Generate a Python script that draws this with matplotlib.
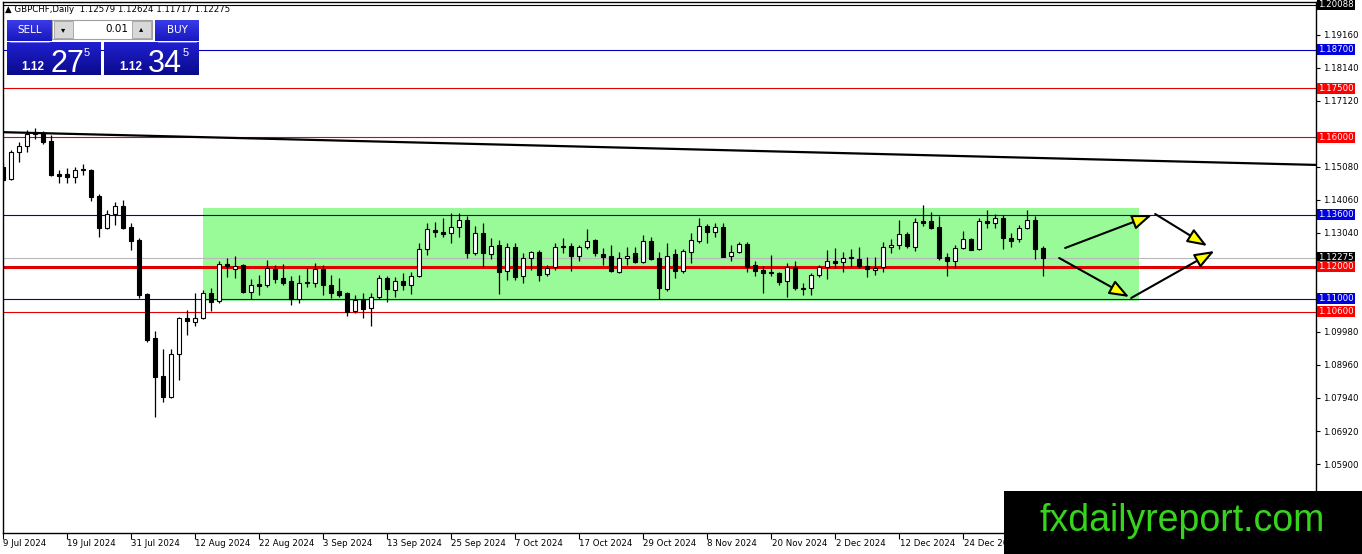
import matplotlib
matplotlib.use("Agg")
import matplotlib.pyplot as plt
from matplotlib.patches import Rectangle
import numpy as np
import pandas as pd

# GBPCHF daily candles, 9 Jul 2024 onward
opens = [1.15075, 1.14704, 1.15538, 1.15724, 1.16094, 1.16125, 1.15878, 1.14859, 1.14859, 1.14766,
         1.14990, 1.14982, 1.14180, 1.13191, 1.13623, 1.13871, 1.13222, 1.12820, 1.11152, 1.09793,
         1.08618, 1.07969, 1.09298, 1.10410, 1.10286, 1.10410, 1.11183, 1.10936, 1.12078, 1.11924,
         1.12047, 1.11214, 1.11461, 1.11430, 1.11924, 1.11646, 1.11553, 1.10998, 1.11523, 1.11492,
         1.11924, 1.11430, 1.11245, 1.11183, 1.10627, 1.10998, 1.10720, 1.11060, 1.11646, 1.11275,
         1.11553, 1.11430, 1.11708, 1.12542, 1.13129, 1.13067, 1.13036, 1.13222, 1.13438, 1.12419,
         1.13036, 1.12388, 1.12666, 1.11862, 1.12604, 1.11708, 1.12264, 1.12450, 1.11770, 1.11986,
         1.12635, 1.12635, 1.12326, 1.12604, 1.12820, 1.12388, 1.12326, 1.11832, 1.12264, 1.12419,
         1.12140, 1.12789, 1.12264, 1.11306, 1.12388, 1.11862, 1.12450, 1.12789, 1.13253, 1.13067,
         1.13222, 1.12326, 1.12450, 1.12697, 1.12047, 1.11893, 1.11801, 1.11801, 1.11553, 1.11986,
         1.11306, 1.11337, 1.11739, 1.11986, 1.12171, 1.12140, 1.12264, 1.12233, 1.12017, 1.11893,
         1.11986, 1.12604, 1.12666, 1.13006, 1.12604, 1.13407, 1.13407, 1.13222, 1.12295, 1.12171,
         1.12573, 1.12851, 1.12542, 1.13407, 1.13345, 1.13500, 1.12882, 1.12851, 1.13191, 1.13438,
         1.12579]
highs = [1.15198, 1.15600, 1.15847, 1.16218, 1.16280, 1.16187, 1.16063, 1.14982, 1.15044, 1.15075,
         1.15167, 1.15013, 1.14241, 1.13747, 1.13994, 1.14056, 1.13345, 1.12882, 1.11183, 1.10008,
         1.09452, 1.09452, 1.10441, 1.10657, 1.11183, 1.11275, 1.11337, 1.12171, 1.12264, 1.12326,
         1.12078, 1.11615, 1.11739, 1.12202, 1.12047, 1.12078, 1.11708, 1.11739, 1.11955, 1.12109,
         1.12047, 1.11739, 1.11646, 1.11214, 1.11121, 1.11183, 1.11183, 1.11739, 1.11708, 1.11677,
         1.11801, 1.11832, 1.12727, 1.13345, 1.13376, 1.13500, 1.13654, 1.13654, 1.13562, 1.13253,
         1.13345, 1.12882, 1.12820, 1.12727, 1.12727, 1.12419, 1.12481, 1.12512, 1.12047, 1.12727,
         1.12882, 1.12727, 1.12666, 1.13160, 1.12851, 1.12573, 1.12666, 1.12450, 1.12604, 1.12604,
         1.12975, 1.12913, 1.12450, 1.12727, 1.12542, 1.12542, 1.13036, 1.13500, 1.13314, 1.13345,
         1.13345, 1.12666, 1.12758, 1.12758, 1.12171, 1.12017, 1.12357, 1.11832, 1.12109, 1.12171,
         1.11492, 1.11801, 1.12047, 1.12512, 1.12573, 1.12450, 1.12542, 1.12604, 1.12295, 1.12295,
         1.12758, 1.12851, 1.13438, 1.13067, 1.13500, 1.13902, 1.13685, 1.13562, 1.12419, 1.12666,
         1.13098, 1.12882, 1.13500, 1.13747, 1.13623, 1.13592, 1.13036, 1.13284, 1.13747, 1.13562,
         1.12624]
lows = [1.14611, 1.14673, 1.15229, 1.15538, 1.15940, 1.15785, 1.14797, 1.14580, 1.14580, 1.14580,
        1.14828, 1.14025, 1.12913, 1.13160, 1.13284, 1.13160, 1.12512, 1.11029, 1.09670, 1.07354,
        1.07817, 1.07940, 1.08494, 1.09885, 1.10163, 1.10379, 1.10627, 1.10874, 1.11677, 1.11646,
        1.11183, 1.10998, 1.11121, 1.11368, 1.11492, 1.11430, 1.10812, 1.10874, 1.11368, 1.11368,
        1.11121, 1.11029, 1.11060, 1.10472, 1.10565, 1.10410, 1.10163, 1.10998, 1.10905, 1.11060,
        1.11275, 1.11152, 1.11677, 1.12357, 1.12913, 1.12913, 1.12727, 1.12913, 1.12264, 1.12357,
        1.11986, 1.12233, 1.11152, 1.11584, 1.11584, 1.11492, 1.11893, 1.11553, 1.11708, 1.11893,
        1.12419, 1.11862, 1.12171, 1.12542, 1.12326, 1.12047, 1.11832, 1.11801, 1.12047, 1.12109,
        1.12109, 1.12202, 1.10998, 1.11245, 1.11646, 1.11801, 1.12109, 1.12727, 1.12727, 1.12913,
        1.12280, 1.12171, 1.12419, 1.11832, 1.11708, 1.11183, 1.11708, 1.11430, 1.11060, 1.11275,
        1.11121, 1.11121, 1.11677, 1.11615, 1.11955, 1.11832, 1.11986, 1.11955, 1.11677, 1.11739,
        1.11832, 1.12419, 1.12542, 1.12573, 1.12481, 1.13253, 1.13160, 1.12202, 1.11708, 1.11955,
        1.12542, 1.12500, 1.12512, 1.13191, 1.13191, 1.12542, 1.12604, 1.12758, 1.13160, 1.12233,
        1.11717]
closes = [1.14673, 1.15538, 1.15724, 1.16094, 1.16125, 1.15847, 1.14828, 1.14812, 1.14766, 1.14982,
          1.14975, 1.14149, 1.13191, 1.13623, 1.13871, 1.13191, 1.12789, 1.11121, 1.09731, 1.08587,
          1.07969, 1.09298, 1.10410, 1.10317, 1.10410, 1.11183, 1.10905, 1.12078, 1.12017, 1.12017,
          1.11214, 1.11430, 1.11399, 1.11955, 1.11615, 1.11492, 1.10998, 1.11492, 1.11492, 1.11924,
          1.11430, 1.11183, 1.11121, 1.10596, 1.10967, 1.10689, 1.11060, 1.11646, 1.11306, 1.11553,
          1.11430, 1.11708, 1.12542, 1.13160, 1.13067, 1.13006, 1.13222, 1.13438, 1.12419, 1.13036,
          1.12419, 1.12635, 1.11832, 1.12604, 1.11677, 1.12264, 1.12450, 1.11739, 1.11955, 1.12604,
          1.12604, 1.12326, 1.12604, 1.12789, 1.12419, 1.12295, 1.11862, 1.12264, 1.12326, 1.12140,
          1.12789, 1.12233, 1.11337, 1.12326, 1.11862, 1.12481, 1.12820, 1.13253, 1.13067, 1.13222,
          1.12295, 1.12450, 1.12697, 1.11986, 1.11862, 1.11801, 1.11795, 1.11523, 1.11986, 1.11337,
          1.11300, 1.11739, 1.11986, 1.12171, 1.12109, 1.12264, 1.12270, 1.12017, 1.11924, 1.11955,
          1.12604, 1.12666, 1.13006, 1.12635, 1.13376, 1.13345, 1.13191, 1.12264, 1.12171, 1.12573,
          1.12851, 1.12512, 1.13407, 1.13345, 1.13500, 1.12882, 1.12789, 1.13191, 1.13438, 1.12542,
          1.12275]

start_date = "2024-07-09"
bid = 1.12275
chart_max = 1.20088

# horizontal levels drawn on the chart
red_levels = [1.17500, 1.16000, 1.12000, 1.10600]
blue_levels = [1.18700, 1.13600, 1.11000]
trend_start = (0, 1.1615)
trend_end = (164, 1.1514)

# range box and projected path
box_x = (25, 142)
box_y = (1.1093, 1.1381)
arrow_paths = [((132.75, 1.12573), (143.6, 1.13592)),
               ((144.0, 1.13623), (150.5, 1.12635)),
               ((132.0, 1.12264), (140.75, 1.11060)),
               ((141.0, 1.11029), (151.4, 1.12480))]

ytick_vals = [1.19160, 1.18140, 1.17120, 1.15080, 1.14060, 1.13040,
              1.09980, 1.08960, 1.07940, 1.06920, 1.05900, 1.04880]

dates = pd.bdate_range(start_date, periods=len(closes))
idx = np.arange(len(closes))

W, H = 1362, 554
fig = plt.figure(figsize=(W / 100, H / 100), dpi=100)
fig.patch.set_facecolor("white")
ax = fig.add_axes([2.5 / W, (H - 533) / H, (1316 - 2.5) / W, (533 - 2) / H])
ax.set_xlim(-0.06, 164.1)
ax.set_ylim(1.03770, 1.20171)

FS = 6.2
ax.yaxis.tick_right()
ax.set_yticks(ytick_vals)
ax.set_yticklabels([f"{v:.5f}" for v in ytick_vals], fontsize=FS)
ax.tick_params(axis="y", direction="out", length=3, width=0.8, pad=2)
ax.set_xticks(idx[::8])
ax.set_xticklabels([])
ax.tick_params(axis="x", direction="out", length=4, width=0.8)
for s in ax.spines.values():
    s.set_linewidth(1.0)
for i in idx[::8]:
    d = dates[i]
    ax.text(i + 0.05, -0.011, f"{d.day} {d.strftime('%b %Y')}", transform=ax.get_xaxis_transform(),
            ha="left", va="top", fontsize=FS, clip_on=False)

# range box
ax.add_patch(Rectangle((box_x[0], box_y[0]), box_x[1] - box_x[0], box_y[1] - box_y[0],
                       facecolor="#98FB98", edgecolor="none", zorder=0))

# levels
ax.axhline(chart_max, color="black", lw=0.8, zorder=1)
ax.axhline(bid, color="#B8B8B8", lw=0.8, zorder=1)
for v in red_levels:
    ax.axhline(v, color="#E00000", lw=2.2 if v == 1.12 else 0.8, zorder=1)
for v in blue_levels:
    ax.axhline(v, color="#0000C0", lw=0.8, zorder=1)
ax.plot([trend_start[0], trend_end[0]], [trend_start[1], trend_end[1]], color="black", lw=1.6, zorder=1)

# candles
o = np.array(opens); c = np.array(closes); hi = np.array(highs); lo = np.array(lows)
ax.vlines(idx, lo, hi, color="black", lw=0.9, zorder=2)
bull = c >= o
body_lo = np.minimum(o, c)
body_h = np.maximum(np.abs(c - o), 0.00025)
ax.bar(idx[bull], body_h[bull], bottom=body_lo[bull], width=0.58, color="white",
       edgecolor="black", linewidth=0.8, zorder=3)
ax.bar(idx[~bull], body_h[~bull], bottom=body_lo[~bull], width=0.58, color="black",
       edgecolor="black", linewidth=0.8, zorder=3)

# arrows
for (x0, y0), (x1, y1) in arrow_paths:
    ax.annotate("", xy=(x1, y1), xytext=(x0, y0),
                arrowprops=dict(arrowstyle="-|>,head_length=1.0,head_width=0.38", fc="#FFFF00",
                                ec="black", lw=1.5, mutation_scale=12, shrinkA=0, shrinkB=0),
                zorder=5)

# price labels on the right axis
label_items = [(chart_max, "black"), (1.18700, "#0000E0"), (1.17500, "#FF0000"), (1.16000, "#FF0000"),
               (1.13600, "#0000E0"), (bid, "black"), (1.12000, "#FF0000"), (1.11000, "#0000E0"),
               (1.10600, "#FF0000")]
for v, col in label_items:
    ax.text(1.0018, v, f"{v:.5f}", transform=ax.get_yaxis_transform(), ha="left", va="center",
            fontsize=FS, color="white", clip_on=False, zorder=10,
            bbox=dict(boxstyle="square,pad=0.12", fc=col, ec="none"))

# overlay in pixel coordinates: header, trade panel, watermark
ov = fig.add_axes([0, 0, 1, 1], zorder=20)
ov.set_xlim(0, W)
ov.set_ylim(H, 0)
ov.axis("off")
ov.patch.set_alpha(0)

ov.text(5, 10, "\u25b2 GBPCHF,Daily  1.12579 1.12624 1.11717 1.12275", fontsize=FS,
        va="center", ha="left")

def grad_box(x0, y0, x1, y1, top, bot):
    g = np.linspace(0, 1, 50)[:, None, None]
    t = np.array(matplotlib.colors.to_rgb(top))
    b = np.array(matplotlib.colors.to_rgb(bot))
    img = t * (1 - g) + b * g
    ov.imshow(img, extent=(x0, x1, y1, y0), aspect="auto", interpolation="bilinear", zorder=1)

grad_box(7, 20, 52, 41, "#3A3AE8", "#1818C0")
grad_box(155, 20, 199, 41, "#3A3AE8", "#1818C0")
ov.add_patch(Rectangle((52, 20), 100, 19, fc="white", ec="#A0A0A0", lw=0.8, zorder=2))
ov.add_patch(Rectangle((54, 21), 19, 17, fc="#D8D8D8", ec="#A0A0A0", lw=0.6, zorder=3))
ov.add_patch(Rectangle((132, 21), 19, 17, fc="#D8D8D8", ec="#A0A0A0", lw=0.6, zorder=3))
ov.text(63.5, 29.5, "\u25be", fontsize=6, ha="center", va="center", zorder=4)
ov.text(141.5, 29, "\u25b4", fontsize=6, ha="center", va="center", zorder=4)
ov.text(128, 29.5, "0.01", fontsize=7.5, ha="right", va="center", zorder=4)
ov.text(29.5, 30, "SELL", fontsize=7.5, color="white", ha="center", va="center", zorder=4)
ov.text(177, 30, "BUY", fontsize=7.5, color="white", ha="center", va="center", zorder=4)
ov.plot([10, 49], [41.5, 41.5], color="#8080F0", lw=0.6, zorder=4)
ov.plot([158, 196], [41.5, 41.5], color="#8080F0", lw=0.6, zorder=4)

grad_box(7, 42, 101, 75, "#2020D0", "#0A0A8C")
grad_box(104, 42, 199, 75, "#2020D0", "#0A0A8C")
for x_small, x_big, x_sup, big in [(21, 50, 84, "27"), (119, 148, 183, "34")]:
    ov.text(x_small, 70, "1.12", fontsize=8.5, color="white", fontweight="bold",
            family="Liberation Sans", ha="left", va="baseline", zorder=4)
    ov.text(x_big, 72, big, fontsize=22, color="white", family="Liberation Sans",
            ha="left", va="baseline", zorder=4)
    ov.text(x_sup, 56, "5", fontsize=8, color="white", family="Liberation Sans",
            ha="left", va="baseline", zorder=4)

ov.add_patch(Rectangle((1004, 491), W - 1004, H - 491, fc="black", ec="none", zorder=5))
ov.text(1182, 521, "fxdailyreport.com", fontsize=27, color="#36D41C", family="Liberation Sans",
        ha="center", va="center", zorder=6)

fig.savefig("out.png", dpi=100)
